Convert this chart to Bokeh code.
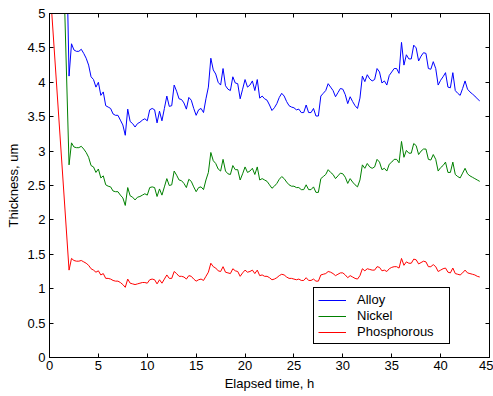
from bokeh.plotting import figure
from bokeh.models import Range1d, LinearAxis, FixedTicker, CustomJSTickFormatter
from bokeh.embed import file_html
from bokeh.resources import INLINE

# sampling grid: first reading at 0 h, then every 15 min from 2 h to 44 h
hours = [0.0] + [2 + 0.25 * i for i in range(169)]

alloy = [18.5,
    4.09, 4.56, 4.47, 4.45, 4.45, 4.48, 4.42, 4.35, 4.25, 4.08,
    4.04, 3.93, 4.00, 3.81, 3.86, 3.66, 3.64, 3.62, 3.54, 3.52,
    3.52, 3.45, 3.38, 3.23, 3.61, 3.43, 3.40, 3.35, 3.40, 3.42,
    3.45, 3.47, 3.44, 3.60, 3.62, 3.60, 3.41, 3.58, 3.44, 3.62,
    3.80, 3.65, 3.66, 3.96, 3.87, 3.76, 3.75, 3.70, 3.61, 3.78,
    3.74, 3.62, 3.52, 3.60, 3.62, 3.56, 3.76, 3.93, 4.35, 4.18,
    4.12, 4.00, 3.96, 4.20, 3.95, 3.90, 3.88, 4.08, 3.99, 3.98,
    3.76, 3.90, 4.04, 3.93, 3.96, 4.02, 3.88, 4.04, 3.77, 3.80,
    3.76, 3.74, 3.67, 3.59, 3.63, 3.69, 3.78, 3.84, 3.80, 3.72,
    3.66, 3.64, 3.63, 3.60, 3.61, 3.56, 3.56, 3.67, 3.56, 3.56,
    3.62, 3.51, 3.51, 3.80, 3.84, 3.88, 3.98, 3.93, 3.88, 3.79,
    3.85, 3.91, 3.90, 3.82, 3.69, 3.79, 3.72, 3.66, 3.62, 3.77,
    4.09, 4.01, 4.11, 4.05, 4.02, 4.04, 4.20, 4.15, 3.99, 4.02,
    3.96, 4.10, 4.15, 4.20, 4.20, 4.13, 4.58, 4.25, 4.40, 4.34,
    4.34, 4.54, 4.50, 4.31, 4.38, 4.43, 4.42, 4.20, 4.19, 4.30,
    4.20, 3.96, 4.03, 4.08, 4.14, 3.93, 3.92, 4.14, 3.88, 3.84,
    3.81, 3.91, 4.02, 3.90, 3.86, 3.83, 3.80, 3.76, 3.73]

nickel = [13.0,
    2.80, 3.12, 3.06, 3.05, 3.05, 3.07, 3.03, 2.98, 2.91, 2.79,
    2.77, 2.69, 2.74, 2.61, 2.64, 2.51, 2.49, 2.48, 2.42, 2.41,
    2.41, 2.36, 2.32, 2.21, 2.47, 2.35, 2.33, 2.29, 2.33, 2.34,
    2.36, 2.38, 2.36, 2.47, 2.48, 2.47, 2.34, 2.45, 2.36, 2.48,
    2.60, 2.50, 2.51, 2.71, 2.65, 2.58, 2.57, 2.53, 2.47, 2.59,
    2.56, 2.48, 2.41, 2.47, 2.48, 2.44, 2.58, 2.69, 2.98, 2.86,
    2.82, 2.74, 2.71, 2.88, 2.71, 2.67, 2.66, 2.79, 2.73, 2.73,
    2.58, 2.67, 2.77, 2.69, 2.71, 2.75, 2.66, 2.77, 2.58, 2.60,
    2.58, 2.56, 2.51, 2.46, 2.49, 2.53, 2.59, 2.63, 2.60, 2.55,
    2.51, 2.49, 2.49, 2.47, 2.47, 2.44, 2.44, 2.51, 2.44, 2.44,
    2.48, 2.40, 2.40, 2.60, 2.63, 2.66, 2.73, 2.69, 2.66, 2.60,
    2.64, 2.68, 2.67, 2.62, 2.53, 2.60, 2.55, 2.51, 2.48, 2.58,
    2.80, 2.75, 2.82, 2.77, 2.75, 2.77, 2.88, 2.84, 2.73, 2.75,
    2.71, 2.81, 2.84, 2.88, 2.88, 2.83, 3.14, 2.91, 3.01, 2.97,
    2.97, 3.11, 3.08, 2.95, 3.00, 3.03, 3.03, 2.88, 2.87, 2.95,
    2.88, 2.71, 2.76, 2.79, 2.84, 2.69, 2.69, 2.84, 2.66, 2.63,
    2.61, 2.68, 2.75, 2.67, 2.64, 2.62, 2.60, 2.58, 2.56]

phosphorous = [5.5,
    1.27, 1.44, 1.41, 1.40, 1.40, 1.41, 1.39, 1.37, 1.34, 1.29,
    1.27, 1.24, 1.26, 1.20, 1.22, 1.15, 1.15, 1.14, 1.12, 1.11,
    1.11, 1.09, 1.06, 1.02, 1.14, 1.08, 1.07, 1.06, 1.07, 1.08,
    1.09, 1.09, 1.08, 1.13, 1.14, 1.13, 1.07, 1.13, 1.08, 1.14,
    1.20, 1.15, 1.15, 1.25, 1.22, 1.18, 1.18, 1.17, 1.14, 1.19,
    1.18, 1.14, 1.11, 1.13, 1.14, 1.12, 1.18, 1.24, 1.37, 1.32,
    1.30, 1.26, 1.25, 1.32, 1.24, 1.23, 1.22, 1.29, 1.26, 1.25,
    1.18, 1.23, 1.27, 1.24, 1.25, 1.27, 1.22, 1.27, 1.19, 1.20,
    1.18, 1.18, 1.16, 1.13, 1.14, 1.16, 1.19, 1.21, 1.20, 1.17,
    1.15, 1.15, 1.14, 1.13, 1.14, 1.12, 1.12, 1.16, 1.12, 1.12,
    1.14, 1.11, 1.11, 1.20, 1.21, 1.22, 1.25, 1.24, 1.22, 1.19,
    1.21, 1.23, 1.23, 1.20, 1.16, 1.19, 1.17, 1.15, 1.14, 1.19,
    1.29, 1.26, 1.29, 1.28, 1.27, 1.27, 1.32, 1.31, 1.26, 1.27,
    1.25, 1.29, 1.31, 1.32, 1.32, 1.30, 1.44, 1.34, 1.39, 1.37,
    1.37, 1.43, 1.42, 1.36, 1.38, 1.40, 1.39, 1.32, 1.32, 1.35,
    1.32, 1.25, 1.27, 1.29, 1.30, 1.24, 1.23, 1.30, 1.22, 1.21,
    1.20, 1.23, 1.27, 1.23, 1.22, 1.21, 1.20, 1.18, 1.17]

x_ticks = [0, 5, 10, 15, 20, 25, 30, 35, 40, 45]
y_ticks = [0, 0.5, 1, 1.5, 2, 2.5, 3, 3.5, 4, 4.5, 5]

FONT = "Liberation Sans"
FS = "13px"

p = figure(width=493, height=396, output_backend="svg", toolbar_location=None,
           x_range=Range1d(0, 45), y_range=Range1d(0, 5),
           min_border_left=49, min_border_right=4, min_border_top=13,
           min_border_bottom=39, background_fill_color="white",
           border_fill_color="white")
p.xgrid.visible = False
p.ygrid.visible = False
p.outline_line_color = "black"
p.outline_line_width = 1
p.outline_line_alpha = 1

fmt = CustomJSTickFormatter(code="return String(Math.round(tick*10)/10)")
blank = CustomJSTickFormatter(code="return ''")

p.line(hours, alloy, line_color="#0000ff", line_alpha=1, line_width=1, legend_label="Alloy")
p.line(hours, nickel, line_color="#008000", line_alpha=1, line_width=1, legend_label="Nickel")
p.line(hours, phosphorous, line_color="#ff0000", line_alpha=1, line_width=1, legend_label="Phosphorous")

for ax in p.xaxis:
    ax.ticker = FixedTicker(ticks=x_ticks)
    ax.formatter = fmt
    ax.axis_label = "Elapsed time, h"
    ax.major_label_standoff = 3
    ax.axis_label_standoff = 3
for ax in p.yaxis:
    ax.ticker = FixedTicker(ticks=y_ticks)
    ax.formatter = fmt
    ax.axis_label = "Thickness, um"
    ax.major_label_standoff = 4
    ax.axis_label_standoff = 3

for ax in list(p.xaxis) + list(p.yaxis):
    ax.major_tick_in = 4
    ax.major_tick_out = 0
    ax.minor_tick_line_color = None
    ax.axis_line_color = "black"
    ax.major_tick_line_color = "black"
    ax.major_label_text_font = FONT
    ax.major_label_text_font_size = FS
    ax.major_label_text_color = "black"
    ax.axis_label_text_font = FONT
    ax.axis_label_text_font_size = FS
    ax.axis_label_text_font_style = "normal"
    ax.axis_label_text_color = "black"

top = LinearAxis(ticker=FixedTicker(ticks=x_ticks), formatter=blank,
                 major_label_text_font_size="1px",
                 major_tick_in=4, major_tick_out=0, major_label_standoff=0,
                 minor_tick_line_color=None, axis_line_color="black")
right = LinearAxis(ticker=FixedTicker(ticks=y_ticks), formatter=blank,
                   major_label_text_font_size="1px",
                   major_tick_in=4, major_tick_out=0, major_label_standoff=0,
                   minor_tick_line_color=None, axis_line_color="black")
p.add_layout(top, "above")
p.add_layout(right, "right")

lg = p.legend[0]
lg.location = (264, 13)
lg.padding = 4
lg.spacing = 1
lg.margin = 0
lg.glyph_width = 28
lg.glyph_height = 12
lg.label_height = 12
lg.label_width = 88
lg.label_standoff = 11
lg.label_text_font = FONT
lg.label_text_font_size = FS
lg.label_text_color = "black"
lg.border_line_color = "black"
lg.border_line_width = 1
lg.border_line_alpha = 1
lg.background_fill_color = "white"
lg.background_fill_alpha = 1

open("out.html", "w").write(file_html(p, INLINE))
